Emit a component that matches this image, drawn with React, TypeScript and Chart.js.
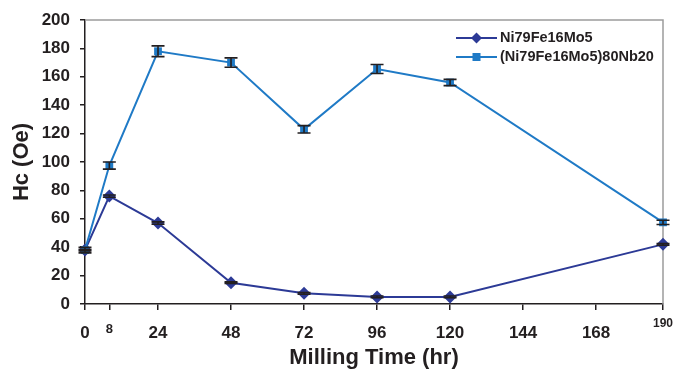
import React, { useEffect, useRef } from "react";
import { Chart, registerables } from "chart.js";
Chart.register(...registerables);

const hours = [0, 8, 24, 48, 72, 96, 120, 190];
const niFeMo = [38, 76, 57, 15, 7.5, 5, 5, 42];
const niFeMoErr = [0.6, 0.8, 0.8, 0.6, 0.6, 0.6, 0.6, 0.6];
const niFeMoNb = [38, 97.5, 178, 170, 123, 165.5, 156, 57.5];
const niFeMoNbErr = [2, 2.5, 3.8, 3.3, 2.6, 3.2, 2.2, 1.5];
const xTickValues = [0, 8, 24, 48, 72, 96, 120, 144, 168, 190];
const seriesNames = ["Ni79Fe16Mo5", "(Ni79Fe16Mo5)80Nb20"];
const errorSets = [niFeMoErr, niFeMoNbErr];

const C1 = "#2C3A96";
const C2 = "#1F7AC6";
const INK = "#231f20";
const FONT = "'Liberation Sans', Arial, sans-serif";

const errorBarPlugin = {
  id: "errorBars",
  afterDatasetsDraw(chart: any) {
    const ctx = chart.ctx;
    const y = chart.scales.y;
    ctx.save();
    ctx.strokeStyle = INK;
    ctx.lineWidth = 1.6;
    chart.data.datasets.forEach((ds: any, i: number) => {
      const meta = chart.getDatasetMeta(i);
      const errs = errorSets[i];
      meta.data.forEach((pt: any, j: number) => {
        const v = ds.data[j].y;
        const e = errs[j];
        const yt = y.getPixelForValue(v + e);
        const yb = y.getPixelForValue(v - e);
        const x = pt.x;
        ctx.beginPath();
        ctx.moveTo(x, yt);
        ctx.lineTo(x, yb);
        ctx.moveTo(x - 6.5, yt);
        ctx.lineTo(x + 6.5, yt);
        ctx.moveTo(x - 6.5, yb);
        ctx.lineTo(x + 6.5, yb);
        ctx.stroke();
      });
    });
    ctx.restore();
  },
};

const framePlugin = {
  id: "frame",
  beforeDatasetsDraw(chart: any) {
    const { ctx, chartArea: a } = chart;
    ctx.save();
    ctx.strokeStyle = "#9c9c9c";
    ctx.lineWidth = 1.5;
    ctx.beginPath();
    ctx.moveTo(a.left, a.top);
    ctx.lineTo(a.right, a.top);
    ctx.lineTo(a.right, a.bottom);
    ctx.stroke();
    ctx.restore();
  },
};

const legendPlugin = {
  id: "customLegend",
  afterDraw(chart: any) {
    const ctx = chart.ctx;
    const rows = [
      { y: 38, color: C1, style: "diamond" },
      { y: 57, color: C2, style: "square" },
    ];
    ctx.save();
    rows.forEach((r, i) => {
      ctx.strokeStyle = r.color;
      ctx.lineWidth = 2;
      ctx.beginPath();
      ctx.moveTo(456, r.y);
      ctx.lineTo(497, r.y);
      ctx.stroke();
      ctx.fillStyle = r.color;
      const cx = 476.5;
      if (r.style === "diamond") {
        ctx.beginPath();
        ctx.moveTo(cx, r.y - 5.5);
        ctx.lineTo(cx + 5.5, r.y);
        ctx.lineTo(cx, r.y + 5.5);
        ctx.lineTo(cx - 5.5, r.y);
        ctx.closePath();
        ctx.fill();
      } else {
        ctx.fillRect(cx - 4, r.y - 4, 8, 8);
      }
      ctx.fillStyle = INK;
      ctx.font = `bold 14.5px ${FONT}`;
      ctx.textBaseline = "middle";
      ctx.textAlign = "left";
      ctx.fillText(seriesNames[i], 500, r.y);
    });
    ctx.restore();
  },
};

export default function App() {
  const ref = useRef<HTMLCanvasElement | null>(null);
  useEffect(() => {
    if (!ref.current) return;
    const chart = new Chart(ref.current, {
      type: "line",
      data: {
        datasets: [
          {
            label: seriesNames[0],
            data: hours.map((h, i) => ({ x: h, y: niFeMo[i] })),
            borderColor: C1,
            backgroundColor: C1,
            borderWidth: 2,
            pointStyle: "rectRot",
            pointRadius: 6.5,
            pointBorderWidth: 0,
            order: 1,
            clip: false,
          } as any,
          {
            label: seriesNames[1],
            data: hours.map((h, i) => ({ x: h, y: niFeMoNb[i] })),
            borderColor: C2,
            backgroundColor: C2,
            borderWidth: 2,
            pointStyle: "rect",
            pointRadius: 5.5,
            pointBorderWidth: 0,
            order: 0,
            clip: false,
          } as any,
        ],
      },
      options: {
        animation: false,
        responsive: false,
        layout: { padding: { top: 20, right: 11, left: 0, bottom: 0 } },
        plugins: { legend: { display: false }, tooltip: { enabled: false } },
        scales: {
          x: {
            type: "linear",
            min: 0,
            max: 190,
            afterBuildTicks: (s: any) => {
              s.ticks = xTickValues.map((v) => ({ value: v }));
            },
            afterFit: (s: any) => {
              s.height = 65;
              s.paddingLeft = 0;
              s.paddingRight = 0;
            },
            grid: {
              display: true,
              drawOnChartArea: false,
              drawTicks: true,
              tickLength: 6,
              color: INK,
              lineWidth: 1.5,
            },
            border: { color: INK, width: 1.5 },
            ticks: {
              autoSkip: false,
              maxRotation: 0,
              minRotation: 0,
              padding: 13,
              color: INK,
              callback: (v: any) => String(v),
              font: (c: any) => {
                const v = c.tick ? c.tick.value : 0;
                if (v === 8) return { family: FONT, weight: "bold", size: 13, lineHeight: 1.05 } as any;
                if (v === 190) return { family: FONT, weight: "bold", size: 12, lineHeight: 0.05 } as any;
                return { family: FONT, weight: "bold", size: 17, lineHeight: 1.2 } as any;
              },
            },
            title: {
              display: true,
              text: "Milling Time (hr)",
              color: INK,
              font: { family: FONT, weight: "bold", size: 22, lineHeight: 1.0 },
              padding: { top: 0, bottom: 0 },
            },
          } as any,
          y: {
            min: 0,
            max: 200,
            afterFit: (s: any) => {
              s.width = 85;
              s.paddingTop = 0;
              s.paddingBottom = 0;
            },
            grid: {
              display: true,
              drawOnChartArea: false,
              drawTicks: true,
              tickLength: 5,
              color: INK,
              lineWidth: 1.5,
            },
            border: { color: INK, width: 1.5 },
            ticks: {
              stepSize: 20,
              padding: 10,
              color: INK,
              font: { family: FONT, weight: "bold", size: 17 },
            },
            title: {
              display: true,
              text: "Hc (Oe)",
              color: INK,
              font: { family: FONT, weight: "bold", size: 22, lineHeight: 1.2 },
              padding: { top: 9, bottom: 0 },
            },
          } as any,
        },
      },
      plugins: [framePlugin, errorBarPlugin, legendPlugin],
    });
    return () => chart.destroy();
  }, []);
  return (
    <div style={{ position: "fixed", left: 0, top: 0, width: 674, height: 369, background: "#fff" }}>
      <canvas ref={ref} width={674} height={369} style={{ display: "block" }} />
    </div>
  );
}
